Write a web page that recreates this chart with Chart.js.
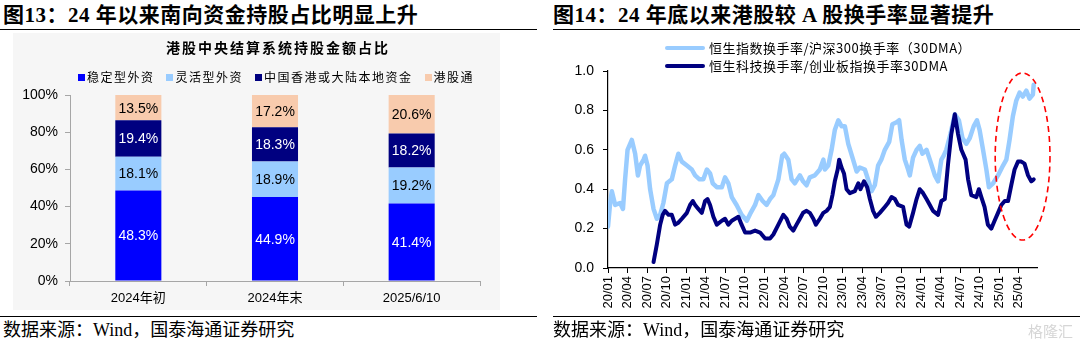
<!DOCTYPE html>
<html><head><meta charset="utf-8">
<script src="https://cdn.jsdelivr.net/npm/chart.js@4.4.0/dist/chart.umd.min.js"></script>
<style>
html,body{margin:0;padding:0;background:#fff;width:1080px;height:344px;overflow:hidden;position:relative;}
.abs{position:absolute;}
.title{font-family:"Liberation Serif","Noto Sans CJK SC",serif;font-weight:bold;font-size:21px;letter-spacing:0.5px;line-height:24px;white-space:nowrap;color:#000;}
.src{font-family:"Liberation Serif","Noto Sans CJK SC",serif;font-size:18px;line-height:20px;white-space:nowrap;color:#000;}
.hr{height:0;border-top:1.5px solid #000;}
.lg{font-family:"Noto Sans CJK SC","Liberation Sans",sans-serif;font-size:13px;letter-spacing:0.5px;line-height:16px;white-space:nowrap;color:#000;}
.lgline{height:4px;border-radius:2px;}
#barTitle{font-family:"Noto Sans CJK SC",sans-serif;font-weight:bold;font-size:14px;letter-spacing:2px;line-height:18px;white-space:nowrap;color:#000;text-align:center;}
#barLegend{display:flex;justify-content:center;align-items:center;gap:12px;font-family:"Noto Sans CJK SC",sans-serif;font-size:12px;letter-spacing:1.5px;line-height:16px;white-space:nowrap;color:#000;}
#barLegend .sw{display:inline-block;width:7px;height:7px;margin-right:2px;vertical-align:middle;position:relative;top:-1px;}
</style></head>
<body>
<div class="abs title" style="left:3px;top:3px;">图13：24 年以来南向资金持股占比明显上升</div>
<div class="abs hr" style="left:0;top:29px;width:537px;"></div>
<div class="abs title" style="left:553px;top:3px;">图14：24 年底以来港股较 A 股换手率显著提升</div>
<div class="abs hr" style="left:553px;top:29px;width:527px;"></div>

<div class="abs" style="left:13px;top:33px;width:487px;height:277px;background:#f6f6f6;">
  <canvas id="c1" width="487" height="277"></canvas>
</div>
<div class="abs" id="barTitle" style="left:0;top:38px;width:556px;"></div>
<div class="abs" id="barLegend" style="left:0;top:69px;width:552px;"></div>

<div class="abs" style="left:553px;top:33px;width:527px;height:283px;">
  <canvas id="c2" width="527" height="283"></canvas>
</div>
<div class="abs lgline" id="lg1line" style="left:665px;top:46px;width:40px;"></div>
<div class="abs lg" id="lg1text" style="left:709px;top:40px;"></div>
<div class="abs lgline" id="lg2line" style="left:665px;top:64px;width:40px;"></div>
<div class="abs lg" id="lg2text" style="left:709px;top:58px;"></div>

<div class="abs hr" style="left:0;top:316px;width:537px;border-top-width:1px;"></div>
<div class="abs hr" style="left:553px;top:316px;width:527px;border-top-width:1px;"></div>
<div class="abs src" style="left:3px;top:320px;">数据来源：Wind，国泰海通证券研究</div>
<div class="abs src" style="left:553px;top:320px;">数据来源：Wind，国泰海通证券研究</div>
<div class="abs" style="left:1028px;top:321px;white-space:nowrap;font-family:'Noto Sans CJK SC';font-size:15px;line-height:20px;color:#d6d6d6;">格隆汇</div>

<script>
// ---------- Left chart data ----------
const barCategories = ['2024年初', '2024年末', '2025/6/10'];
const stableForeign = [48.3, 44.9, 41.4];
const flexibleForeign = [18.1, 18.9, 19.2];
const localFunds = [19.4, 18.3, 18.2];
const southbound = [13.5, 17.2, 20.6];
const barSeriesNames = ['稳定型外资', '灵活型外资', '中国香港或大陆本地资金', '港股通'];
const barTitle = '港股中央结算系统持股金额占比';

// ---------- Right chart data ----------
const lineSeriesNames = ['恒生指数换手率/沪深300换手率（30DMA）', '恒生科技换手率/创业板指换手率30DMA'];
const xTickLabels = ['20/01','20/04','20/07','20/10','21/01','21/04','21/07','21/10','22/01','22/04','22/07','22/10','23/01','23/04','23/07','23/10','24/01','24/04','24/07','24/10','25/01','25/04'];
const yTickValues = [0, 0.2, 0.4, 0.6, 0.8, 1.0];

const hsiDates = ['2020-01-01','2020-01-11','2020-01-19','2020-02-04','2020-02-27','2020-03-10','2020-03-20','2020-04-01','2020-04-21','2020-05-06','2020-05-19','2020-05-29','2020-06-15','2020-06-22','2020-07-03','2020-07-15','2020-07-31','2020-08-16','2020-09-01','2020-09-16','2020-10-02','2020-10-25','2020-11-10','2020-11-25','2020-12-11',
'2021-01-04','2021-01-27','2021-02-12','2021-03-02','2021-03-20','2021-04-06','2021-04-21','2021-05-03','2021-05-22','2021-06-15','2021-06-30','2021-07-15','2021-07-31','2021-08-23','2021-09-16','2021-10-10','2021-10-28','2021-11-18','2021-12-03','2021-12-23',
'2022-01-11','2022-01-27','2022-02-12','2022-03-05','2022-03-23','2022-04-02','2022-04-21','2022-05-06','2022-05-21','2022-06-14','2022-06-29','2022-07-15','2022-07-30','2022-08-23','2022-09-16','2022-10-02','2022-10-09','2022-10-25','2022-11-10','2022-11-25','2022-12-11','2022-12-26',
'2023-01-11','2023-01-27','2023-02-19','2023-03-05','2023-03-20','2023-04-13','2023-04-28','2023-05-14','2023-05-29','2023-06-14','2023-06-29','2023-07-15','2023-08-05','2023-08-20','2023-09-09','2023-09-21','2023-10-02','2023-10-17','2023-11-02','2023-11-10','2023-11-25','2023-12-11','2023-12-26',
'2024-01-08','2024-01-27','2024-02-12','2024-03-05','2024-03-20','2024-04-05','2024-04-16','2024-04-28','2024-05-17','2024-06-07','2024-06-26','2024-07-12','2024-07-30','2024-08-16','2024-09-04','2024-09-19','2024-10-01','2024-10-17','2024-11-02','2024-11-14','2024-12-03','2024-12-26',
'2025-01-19','2025-02-04','2025-02-19','2025-03-04','2025-03-20','2025-04-05','2025-04-20','2025-05-06','2025-05-21','2025-06-06','2025-06-10'];
const hsiRatio = [0.21,0.33,0.39,0.32,0.33,0.30,0.45,0.60,0.65,0.58,0.47,0.52,0.55,0.57,0.52,0.40,0.30,0.25,0.27,0.33,0.43,0.45,0.52,0.58,0.54,
0.52,0.50,0.47,0.45,0.45,0.50,0.48,0.43,0.41,0.41,0.46,0.43,0.36,0.32,0.27,0.24,0.28,0.32,0.37,0.34,
0.32,0.35,0.37,0.45,0.57,0.58,0.55,0.45,0.43,0.47,0.44,0.42,0.46,0.47,0.50,0.55,0.50,0.52,0.60,0.70,0.75,0.72,
0.72,0.63,0.55,0.49,0.51,0.50,0.45,0.39,0.42,0.52,0.55,0.60,0.64,0.73,0.74,0.75,0.65,0.55,0.50,0.47,0.56,0.60,0.62,
0.58,0.60,0.55,0.47,0.44,0.55,0.57,0.60,0.68,0.78,0.75,0.66,0.63,0.66,0.72,0.75,0.70,0.60,0.50,0.41,0.43,0.47,
0.52,0.55,0.65,0.77,0.85,0.89,0.87,0.90,0.86,0.88,0.93];

const hstechDates = ['2020-07-31','2020-08-16','2020-09-01','2020-09-13','2020-09-24','2020-10-10','2020-10-25','2020-11-10','2020-11-25','2020-12-11',
'2021-01-04','2021-01-19','2021-02-01','2021-02-12','2021-02-27','2021-03-13','2021-03-28','2021-04-09','2021-04-21','2021-05-06','2021-05-22','2021-06-15','2021-06-30','2021-07-15','2021-07-31','2021-08-16','2021-09-01','2021-09-16','2021-10-02','2021-10-25','2021-11-18','2021-12-11',
'2022-01-04','2022-01-27','2022-02-12','2022-03-05','2022-03-28','2022-04-13','2022-04-28','2022-05-14','2022-05-29','2022-06-14','2022-06-29','2022-07-15','2022-07-30','2022-08-16','2022-08-28','2022-09-16','2022-10-02','2022-10-17','2022-11-02','2022-11-14','2022-11-25','2022-12-08','2022-12-15','2022-12-26',
'2023-01-07','2023-01-19','2023-02-04','2023-02-27','2023-03-13','2023-03-23','2023-04-09','2023-04-24','2023-05-06','2023-05-21','2023-06-04','2023-06-22','2023-07-15','2023-07-30','2023-08-16','2023-09-01','2023-09-16','2023-10-09','2023-10-25','2023-11-07','2023-11-25','2023-12-11','2023-12-26',
'2024-01-11','2024-01-27','2024-02-12','2024-02-27','2024-03-20','2024-04-05','2024-04-21','2024-05-06','2024-05-21','2024-06-07','2024-06-22','2024-07-07','2024-07-27','2024-08-08','2024-08-23','2024-09-16','2024-09-28','2024-10-09','2024-10-24','2024-11-09','2024-11-25','2024-12-10','2024-12-26',
'2025-01-11','2025-01-27','2025-02-12','2025-02-27','2025-03-12','2025-03-28','2025-04-13','2025-04-28','2025-05-14','2025-05-29','2025-06-10'];
const hstechRatio = [0.03,0.12,0.22,0.27,0.29,0.27,0.27,0.22,0.23,0.25,
0.28,0.32,0.34,0.32,0.30,0.28,0.34,0.35,0.32,0.26,0.22,0.24,0.25,0.22,0.24,0.25,0.26,0.22,0.18,0.18,0.19,0.18,
0.15,0.15,0.17,0.22,0.27,0.25,0.21,0.19,0.22,0.25,0.28,0.29,0.28,0.25,0.22,0.25,0.28,0.29,0.31,0.37,0.44,0.50,0.55,0.51,
0.48,0.40,0.38,0.39,0.43,0.40,0.44,0.41,0.35,0.29,0.26,0.28,0.31,0.33,0.36,0.35,0.32,0.31,0.22,0.21,0.28,0.35,0.40,
0.38,0.35,0.32,0.29,0.27,0.34,0.35,0.53,0.68,0.78,0.68,0.60,0.55,0.45,0.37,0.36,0.40,0.36,0.31,0.22,0.20,0.24,0.28,
0.32,0.34,0.34,0.42,0.50,0.54,0.54,0.53,0.47,0.44,0.45];

// highlight ellipse (annotation), in data units
const highlight = { centerDate: '2025-04-19', centerValue: 0.566, halfMonths: 4.2, halfValue: 0.424 };

// ---------- colours ----------
const barColors = ['#0000FF', '#99CCFF', '#000080', '#F8CBAD'];
const barLabelColors = ['#FFFFFF', '#000000', '#FFFFFF', '#000000'];
const lineColors = ['#99CCFF', '#000080'];

const SANS = '"Liberation Sans", Arial, "Noto Sans CJK SC", sans-serif';

// ---------- left chart ----------
const barSeries = [stableForeign, flexibleForeign, localFunds, southbound];
const totals = barCategories.map((_, j) => barSeries.reduce((s, a) => s + a[j], 0));

document.getElementById('barTitle').textContent = barTitle;
const lgBox = document.getElementById('barLegend');
barSeriesNames.forEach((name, i) => {
  const item = document.createElement('span');
  const sw = document.createElement('span');
  sw.className = 'sw';
  sw.style.background = barColors[i];
  item.appendChild(sw);
  item.appendChild(document.createTextNode(name));
  lgBox.appendChild(item);
});

const barLabelPlugin = {
  id: 'barLabels',
  afterDatasetsDraw(chart) {
    const ctx = chart.ctx;
    chart.data.datasets.forEach((ds, i) => {
      const meta = chart.getDatasetMeta(i);
      meta.data.forEach((el, j) => {
        const p = el.getProps(['x', 'y', 'base'], true);
        ctx.save();
        ctx.fillStyle = ds.labelColor;
        ctx.font = '14px ' + SANS;
        ctx.textAlign = 'center';
        ctx.textBaseline = 'middle';
        ctx.fillText(ds.raw[j].toFixed(1) + '%', p.x, (p.y + p.base) / 2 + 1);
        ctx.restore();
      });
    });
  }
};

new Chart(document.getElementById('c1'), {
  type: 'bar',
  data: {
    labels: barCategories,
    datasets: barSeries.map((arr, i) => ({
      label: barSeriesNames[i],
      raw: arr,
      data: arr.map((v, j) => v / totals[j] * 100),
      backgroundColor: barColors[i],
      labelColor: barLabelColors[i],
      borderWidth: 0,
      categoryPercentage: 1,
      barPercentage: 0.337
    }))
  },
  options: {
    responsive: false,
    animation: false,
    layout: { padding: { top: 62, right: 20, left: 0, bottom: 0 } },
    plugins: { title: { display: false }, legend: { display: false }, tooltip: { enabled: false } },
    scales: {
      x: {
        stacked: true,
        grid: { drawOnChartArea: false, drawTicks: true, tickLength: 5, color: '#a6a6a6', offset: true },
        border: { color: '#a6a6a6', width: 1 },
        ticks: { color: '#000', font: { family: SANS, size: 13 }, padding: 5, maxRotation: 0 },
        afterFit: (a) => { a.height = 29; }
      },
      y: {
        stacked: true, min: 0, max: 100,
        grid: { drawOnChartArea: false, drawTicks: true, tickLength: 5, color: '#a6a6a6' },
        border: { color: '#a6a6a6', width: 1 },
        ticks: { stepSize: 20, color: '#000', font: { family: SANS, size: 14 }, padding: 7, callback: (v) => v + '%' },
        afterFit: (a) => { a.width = 57; }
      }
    }
  },
  plugins: [barLabelPlugin]
});

// ---------- right chart ----------
function monthIndex(s) {
  const [y, m, d] = s.split('-').map(Number);
  return (y - 2020) * 12 + (m - 1) + (d - 1) / 30.5;
}
const toPoints = (dates, vals) => dates.map((d, i) => ({ x: monthIndex(d), y: vals[i] }));

document.getElementById('lg1line').style.background = lineColors[0];
document.getElementById('lg2line').style.background = lineColors[1];
document.getElementById('lg1text').textContent = lineSeriesNames[0];
document.getElementById('lg2text').textContent = lineSeriesNames[1];

const ellipsePlugin = {
  id: 'ellipse',
  afterDraw(chart) {
    const xs = chart.scales.x, ys = chart.scales.y;
    const cm = monthIndex(highlight.centerDate);
    const cx = xs.getPixelForValue(cm);
    const cy = ys.getPixelForValue(highlight.centerValue);
    const rx = xs.getPixelForValue(cm + highlight.halfMonths) - cx;
    const ry = cy - ys.getPixelForValue(highlight.centerValue + highlight.halfValue);
    const ctx = chart.ctx;
    ctx.save();
    ctx.strokeStyle = '#FF0000';
    ctx.lineWidth = 1.6;
    ctx.setLineDash([6, 4]);
    ctx.beginPath();
    ctx.ellipse(cx, cy, rx, ry, 0, 0, Math.PI * 2);
    ctx.stroke();
    ctx.restore();
  }
};

new Chart(document.getElementById('c2'), {
  type: 'line',
  data: {
    datasets: [
      { label: lineSeriesNames[0], data: toPoints(hsiDates, hsiRatio), borderColor: lineColors[0], borderWidth: 4.5, pointRadius: 0, tension: 0, order: 2, borderJoinStyle: 'round', borderCapStyle: 'round' },
      { label: lineSeriesNames[1], data: toPoints(hstechDates, hstechRatio), borderColor: lineColors[1], borderWidth: 4, pointRadius: 0, tension: 0, order: 1, borderJoinStyle: 'round', borderCapStyle: 'round' }
    ]
  },
  options: {
    responsive: false,
    animation: false,
    layout: { padding: { top: 38, right: 43, left: 0, bottom: 0 } },
    plugins: { legend: { display: false }, tooltip: { enabled: false } },
    scales: {
      x: {
        type: 'linear', min: 0, max: 65.8,
        grid: { drawOnChartArea: false, drawTicks: true, tickLength: 5, color: '#000' },
        border: { color: '#000', width: 1.2 },
        afterBuildTicks: (a) => { a.ticks = xTickLabels.map((_, i) => ({ value: i * 3 })); },
        ticks: { autoSkip: false, minRotation: 90, maxRotation: 90, color: '#000', font: { family: SANS, size: 13 }, padding: 3,
          callback: (v) => xTickLabels[Math.round(v / 3)] },
        afterFit: (a) => { a.height = 48; }
      },
      y: {
        min: 0, max: 1,
        grid: { drawOnChartArea: false, drawTicks: true, tickLength: 5, color: '#000' },
        border: { color: '#000', width: 1.2 },
        afterBuildTicks: (a) => { a.ticks = yTickValues.map(v => ({ value: v })); },
        ticks: { color: '#000', font: { family: SANS, size: 14 }, padding: 9, callback: (v) => Number(v).toFixed(1) },
        afterFit: (a) => { a.width = 55; }
      }
    }
  },
  plugins: [ellipsePlugin]
});
</script>
</body></html>
